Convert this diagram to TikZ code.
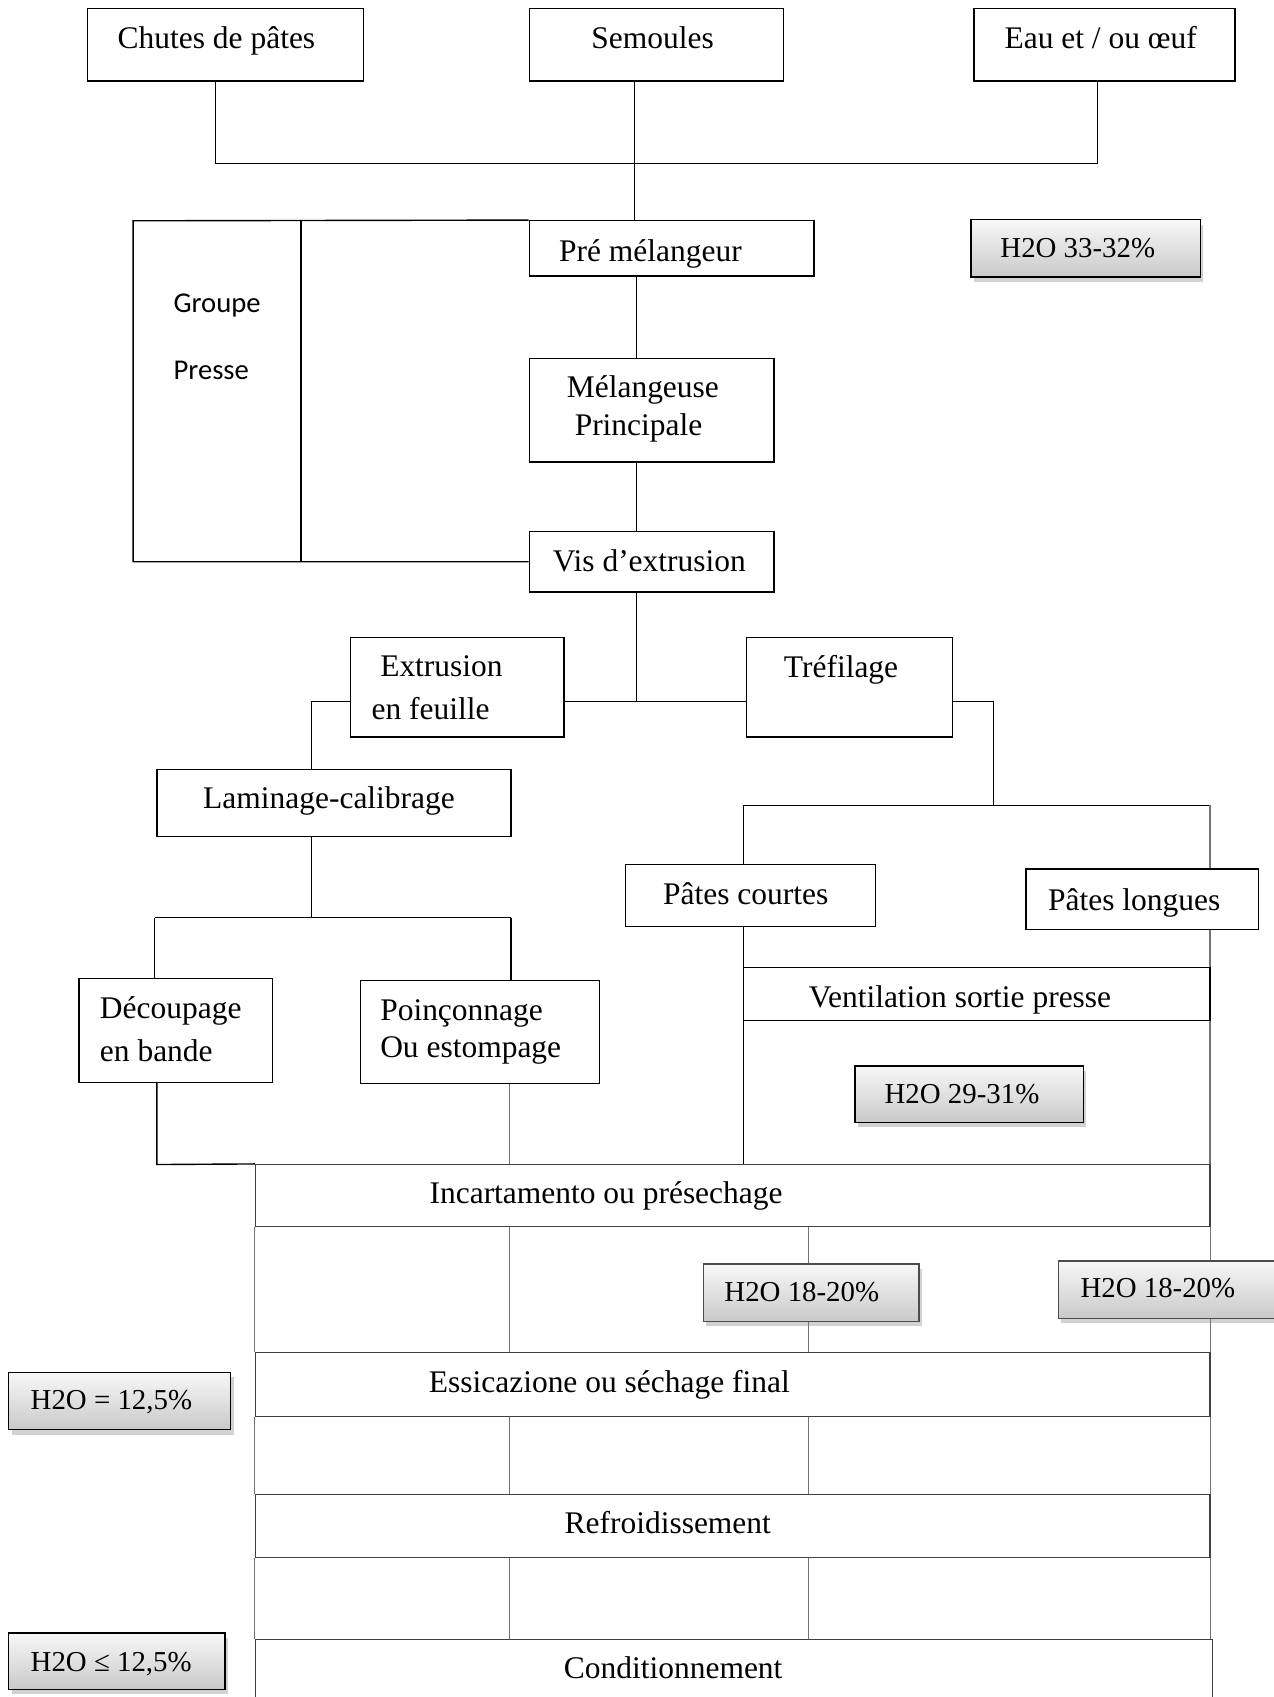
\documentclass[tikz,border=0pt]{standalone}
\usepackage{fontspec}
\setmainfont{Liberation Serif}
\newfontfamily\calib{Carlito}
\usetikzlibrary{fit,shadows}
\pgfdeclarelayer{back}
\pgfdeclarelayer{bg}
\pgfsetlayers{back,bg,main}
\begin{document}
\begin{tikzpicture}[x=0.54pt,y=-0.54pt,
  font=\fontsize{15.7}{19}\selectfont,
  box/.style={draw=black, fill=white, inner sep=0pt, line width=0.7pt},
  gbox/.style={draw=black!75, fill=white, inner sep=0pt, line width=0.6pt},
  hbox/.style={draw=black, inner sep=0pt, line width=0.7pt, top color=gray!6, bottom color=gray!42,
     drop shadow={shadow xshift=1.5pt, shadow yshift=-2.5pt, opacity=0.35, fill=gray}},
  conn/.style={draw=black, line width=0.7pt},
  gconn/.style={draw=black!55, line width=0.6pt},
  t/.style={anchor=base, inner sep=0pt},
  tl/.style={anchor=base west, inner sep=0pt},
  th/.style={anchor=base west, inner sep=0pt, font=\fontsize{14.4}{17}\selectfont}]
\useasboundingbox (0,0) rectangle (1177,1568);
\begin{pgfonlayer}{back}
\fill[white] (0,0) rectangle (1177,1568);
\end{pgfonlayer}

% boxes
\node[box, fit={(81,8) (336,75)}] (chutes) {};
\node[box, fit={(489,8) (724,75)}] (semoules) {};
\node[box, fit={(900,8) (1141,75)}] (eau) {};
\node[box, fit={(489,204) (752,255)}] (pre) {};
\node[box, fit={(489,331) (715,427)}] (mel) {};
\node[box, fit={(489,491) (715,547)}] (vis) {};
\node[hbox, fit={(897,203) (1109,256)}] (hA) {};
\node[box, fit={(324,589) (521,681)}] (extr) {};
\node[box, fit={(690,589) (880,681)}] (tref) {};
\node[box, fit={(145,711) (472,773)}] (lam) {};
\node[box, fit={(578,799) (809,856)}] (pcourt) {};
\node[box, fit={(948,803) (1163,859)}] (plong) {};
\node[box, fit={(73,904) (252,1000)}] (decoup) {};
\node[box, fit={(333,906) (554,1001)}] (poin) {};
\node[box, fit={(687,894) (1118,943)}] (vent) {};
\node[hbox, fit={(790,985) (1001,1037)}] (hB) {};
\node[gbox, fit={(236,1076) (1118,1133)}] (incart) {};
\node[gbox, fit={(236,1250) (1118,1309)}] (essic) {};
\node[gbox, fit={(236,1381) (1118,1439)}] (refr) {};
\node[gbox, fit={(236,1515) (1120,1600)}] (cond) {};
\node[hbox, draw=black!70, fit={(650,1168) (849,1221)}] (hC) {};
\node[hbox, draw=black!70, fit={(978,1165) (1200,1218)}] (hD) {};
\node[hbox, fit={(8,1268) (213,1321)}] (hE) {};
\node[hbox, fit={(8,1509) (208,1561)}] (hF) {};

% junction coordinates
\coordinate (jl) at (199,151);
\coordinate (jr) at (1014,151);
\coordinate (sx) at (586,151);
\coordinate (mx) at (588,300);
\coordinate (jm) at (588,648);
\coordinate (lx) at (288,648);
\coordinate (tx) at (918,648);
\coordinate (ty) at (918,744);
\coordinate (pl) at (687,744);
\coordinate (pr) at (1118,744);
\coordinate (lb) at (288,848);
\coordinate (lbl) at (143,848);
\coordinate (lbr) at (472,848);
\coordinate (db) at (145,1076);
\coordinate (c471) at (471,1000);
\coordinate (c747) at (747,1200);
\coordinate (g1) at (123,204);
\coordinate (g2) at (123,519);
\coordinate (g3) at (278,204);
\coordinate (g4) at (278,519);

\begin{pgfonlayer}{bg}
\draw[conn] (chutes.south -| jl) -- (jl) -- (jr) -- (eau.south -| jr);
\draw[conn] (semoules.south -| sx) -- (pre.north -| sx);
\draw[conn] (pre.south -| mx) -- (mel.north -| mx);
\draw[conn] (mel.south -| mx) -- (vis.north -| mx);
\draw[conn] (vis.south -| jm) -- (jm);
\draw[conn] (extr.east |- jm) -- (tref.west |- jm);
\draw[conn] (extr.west |- lx) -- (lx) -- (lam.north -| lx);
\draw[conn] (tref.east |- tx) -- (tx) -- (ty);
\draw[conn] (pl) -- (pr);
\draw[conn] (pl) -- (pcourt.north -| pl);
\draw[gconn] (pr) -- (incart.north -| pr);
\draw[conn] (pcourt.south -| pl) -- (incart.north -| pl);
\draw[conn] (lam.south -| lb) -- (lb);
\draw[conn] (lbl) -- (lbr);
\draw[conn] (lbl) -- (decoup.north -| lbl);
\draw[conn] (lbr) -- (poin.north -| lbr);
\draw[conn] (decoup.south -| db) -- (db) -- (incart.north west);
\draw[gconn] (poin.south -| c471) -- (incart.north -| c471);
\draw[conn] (pre.north west) -- (g1) -- (g2) -- (vis.west);
\draw[conn] (g3) -- (g4);
% grid between the drying stages
\foreach \a/\b in {incart/essic, essic/refr, refr/cond}{
  \draw[gconn] (\a.south west) -- (\b.north west);
  \draw[gconn] (\a.south east) -- (\b.north -| \a.south east);
  \draw[gconn] (\a.south -| c471) -- (\b.north -| c471);
  \draw[gconn] (\a.south -| c747) -- (\b.north -| c747);
}
\end{pgfonlayer}

% texts
\node[t] (tchutes) at (200,45) {Chutes de pâtes};
\node[t] (tsem) at (603,45) {Semoules};
\node[t] (teau) at (1017,45) {Eau et / ou œuf};
\node[t] (tpre) at (601,242) {Pré mélangeur};
\node[t] (tmel1) at (594,367) {Mélangeuse};
\node[t] (tmel2) at (590,402) {Principale};
\node[t] (tvis) at (600,528) {Vis d’extrusion};
\node[tl, font=\calib\fontsize{14.3}{17}\selectfont] (tgr) at (160,289) {Groupe};
\node[tl, font=\calib\fontsize{14.3}{17}\selectfont] (tpr) at (160,351) {Presse};
\node[th] (thA) at (924,238) {H2O 33-32\%};
\node[tl] (text1) at (351,625) {Extrusion};
\node[tl] (text2) at (343,665) {en feuille};
\node[tl] (ttref) at (724,626) {Tréfilage};
\node[t] (tlam) at (304,747) {Laminage-calibrage};
\node[t] (tpc) at (689,836) {Pâtes courtes};
\node[t] (tpl) at (1048,841) {Pâtes longues};
\node[tl] (tdec1) at (92,941) {Découpage};
\node[tl] (tdec2) at (92,981) {en bande};
\node[tl] (tpoi1) at (351,943) {Poinçonnage};
\node[tl] (tpoi2) at (351,977) {Ou estompage};
\node[t] (tvent) at (887,931) {Ventilation sortie presse};
\node[th] (thB) at (817,1020) {H2O 29-31\%};
\node[t] (tinc) at (560,1112) {Incartamento ou présechage};
\node[th] (thC) at (669,1203) {H2O 18-20\%};
\node[th] (thD) at (998,1199) {H2O 18-20\%};
\node[t] (tess) at (563,1287) {Essicazione ou séchage final};
\node[th] (thE) at (28,1302) {H2O = 12,5\%};
\node[t] (tref2) at (617,1417) {Refroidissement};
\node[th] (thF) at (28,1544) {H2O ≤ 12,5\%};
\node[t] (tcond) at (622,1551) {Conditionnement};
\end{tikzpicture}
\end{document}
